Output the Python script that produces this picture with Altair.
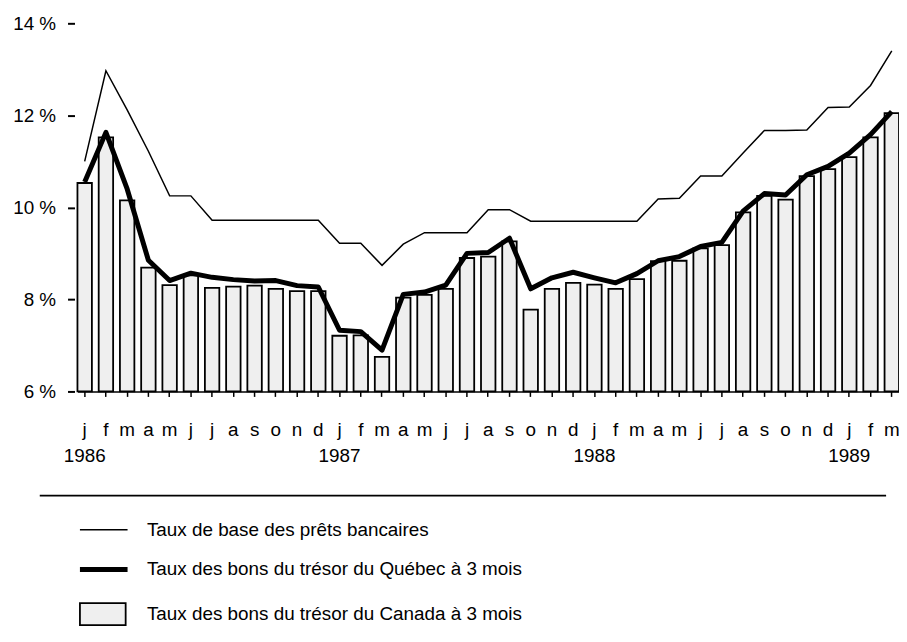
import altair as alt
import pandas as pd

# ---- data -------------------------------------------------------------
mois_lettres = ["j", "f", "m", "a", "m", "j", "j", "a", "s", "o", "n", "d"]
annees = [1986, 1987, 1988, 1989]

canada = [10.53, 11.52, 10.15, 8.69, 8.31, 8.52, 8.25, 8.28, 8.30, 8.23, 8.18, 8.18,
          7.21, 7.22, 6.75, 8.04, 8.10, 8.23, 8.90, 8.93, 9.26, 7.78, 8.23, 8.36,
          8.32, 8.23, 8.44, 8.83, 8.84, 9.11, 9.18, 9.89, 10.25, 10.17, 10.68, 10.83,
          11.09, 11.52, 12.05]
quebec = [10.55, 11.63, 10.40, 8.85, 8.41, 8.57, 8.48, 8.43, 8.40, 8.41, 8.30, 8.27,
          7.33, 7.30, 6.90, 8.11, 8.16, 8.31, 9.00, 9.02, 9.33, 8.23, 8.47, 8.59,
          8.47, 8.36, 8.56, 8.84, 8.93, 9.15, 9.24, 9.92, 10.30, 10.27, 10.71, 10.89,
          11.18, 11.58, 12.08]
prime = [11.00, 12.97, 12.12, 11.22, 10.25, 10.25, 9.72, 9.72, 9.72, 9.72, 9.72, 9.72,
         9.22, 9.22, 8.74, 9.20, 9.45, 9.45, 9.45, 9.95, 9.95, 9.70, 9.70, 9.70,
         9.70, 9.70, 9.70, 10.18, 10.20, 10.68, 10.68, 11.18, 11.67, 11.67, 11.68, 12.17,
         12.18, 12.65, 13.40]

L_PRIME = "Taux de base des prêts bancaires"
L_QC = "Taux des bons du trésor du Québec à 3 mois"
L_CA = "Taux des bons du trésor du Canada à 3 mois"
series = [L_PRIME, L_QC, L_CA]

df = pd.DataFrame({"i": list(range(len(canada))), "canada": canada,
                   "quebec": quebec, "prime": prime})

FONT = "Liberation Sans"
BAR_FILL = "#efefef"

months_js = "[" + ",".join(f"'{m}'" for m in mois_lettres) + "]"
years_js = "[" + ",".join(f"'{y}'" for y in annees) + "]"
label_expr = (f"datum.value % 12 == 0 ? [{months_js}[datum.value % 12], "
              f"{years_js}[floor(datum.value / 12)]] : {months_js}[datum.value % 12]")

x_enc = alt.X("i:O", title=None,
              scale=alt.Scale(paddingInner=0.32, paddingOuter=0),
              axis=alt.Axis(labelExpr=label_expr, labelAngle=0, labelOverlap=False,
                            tickSize=5, tickWidth=1.5, tickColor="black",
                            domainColor="black", domainWidth=1.5, grid=False,
                            labelPadding=24, labelFontSize=19, labelLineHeight=27,
                            labelBaseline="top", labelFont=FONT, labelColor="black"))

y_scale = alt.Scale(domain=[6, 14], zero=False, nice=False)
y_axis = alt.Axis(values=[6, 8, 10, 12, 14], labelExpr="datum.value + ' %'",
                  tickSize=7, tickWidth=2, tickColor="black", domain=False,
                  grid=False, offset=3, labelPadding=12, labelFontSize=19,
                  labelFont=FONT, labelColor="black", title=None)

is_ca = f"datum.value === '{L_CA}'"
is_pr = f"datum.value === '{L_PRIME}'"
legend = alt.Legend(
    title=None, orient="none", legendX=17, legendY=501, direction="vertical",
    symbolSize=2304, labelFontSize=19, labelFont=FONT, labelColor="black",
    labelOffset=34, rowPadding=19, labelLimit=0,
    symbolType={"expr": f"{is_ca} ? 'M-1,-0.46H0.92V0.46H-1Z' : 'stroke'"},
    symbolStrokeWidth={"expr": f"{is_pr} ? 1.5 : ({is_ca} ? 1.8 : 5)"},
    symbolStrokeColor="black",
    symbolFillColor={"expr": f"{is_ca} ? '{BAR_FILL}' : 'transparent'"},
    symbolOpacity=1,
)

color_scale = alt.Scale(domain=series, range=["black", "black", "black"])

base = alt.Chart(df)

bars = base.mark_bar(stroke="black", strokeWidth=1.8, fill=BAR_FILL).encode(
    x=x_enc,
    y=alt.Y("canada:Q", scale=y_scale, axis=y_axis),
    y2=alt.datum(6),
)

line_qc = base.mark_line(strokeWidth=5, strokeJoin="round").transform_calculate(
    serie=f"'{L_QC}'"
).encode(
    x=x_enc,
    y=alt.Y("quebec:Q", scale=y_scale, axis=y_axis),
    color=alt.Color("serie:N", scale=color_scale, legend=legend),
)

line_pr = base.mark_line(strokeWidth=1.5).transform_calculate(
    serie=f"'{L_PRIME}'"
).encode(
    x=x_enc,
    y=alt.Y("prime:Q", scale=y_scale, axis=y_axis),
    color=alt.Color("serie:N", scale=color_scale, legend=legend),
)

sep = alt.Chart(pd.DataFrame({"s": [0]})).mark_rule(
    color="black", strokeWidth=1.6
).encode(x=alt.value(-38), x2=alt.value(815), y=alt.value(476))

chart = alt.layer(bars, line_qc, line_pr, sep).properties(
    width=828, height=371, background="white",
    autosize=alt.AutoSizeParams(type="none"),
    padding={"left": 70, "top": 13, "right": 0, "bottom": 238},
).configure_view(stroke=None).configure_axis(grid=False)

chart.save("out.html", embed_options={"renderer": "svg", "actions": False})
